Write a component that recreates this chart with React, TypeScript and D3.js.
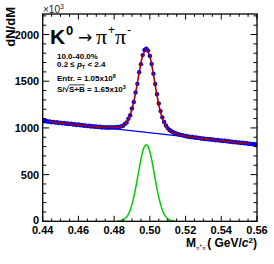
// K0 -> pi+ pi- invariant mass peak, ROOT-style frame drawn with d3 scales
import React from 'react';
import * as d3 from 'd3';

const svgWidth = 274;
const svgHeight = 264;
const margin = { left: 42.7, right: 17, top: 14, bottom: 42.7 };

const width = svgWidth - margin.left - margin.right;
const height = svgHeight - margin.top - margin.bottom;

// histogram: bin width 1 MeV starting at 0.440 GeV/c^2 (counts in units of 10^3)
const MASS_LO = 0.44;
const BIN_WIDTH = 0.001;
const counts = [
    1080, 1072, 1074, 1066, 1070, 1061, 1065, 1057, 1060, 1053,
    1057, 1049, 1053, 1045, 1048, 1041, 1045, 1036, 1040, 1032,
    1036, 1028, 1031, 1024, 1027, 1019, 1023, 1015, 1019, 1012,
    1016, 1009, 1012, 1005, 1009, 1003, 1007, 1002, 1007, 1003,
    1008, 1004, 1010, 1009, 1019, 1024, 1043, 1058, 1098, 1136,
    1208, 1277, 1380, 1472, 1596, 1683, 1780, 1835, 1848, 1828,
    1770, 1684, 1580, 1470, 1360, 1262, 1180, 1113, 1064, 1026,
    998, 978, 964, 953, 945, 937, 932, 926, 923, 917,
    914, 908, 907, 901, 902, 896, 897, 891, 892, 885,
    887, 881, 883, 877, 879, 873, 875, 868, 870, 864,
    866, 860, 862, 856, 858, 852, 853, 847, 849, 843,
    845, 839, 841, 835, 837, 830, 832, 826, 828, 822,
    824
];

// total fit, sampled every 2 MeV from 0.444
const FIT_LO = 0.444;
const FIT_STEP = 0.002;
const fitValues = [
    1067, 1062, 1058, 1054, 1050, 1045, 1041, 1037, 1033, 1029,
    1024, 1020, 1017, 1013, 1010, 1007, 1005, 1005, 1005, 1007,
    1016, 1039, 1094, 1202, 1374, 1588, 1772, 1843, 1764, 1571,
    1349, 1168, 1052, 988, 957, 940, 929, 921, 912, 906,
    900, 895, 890, 885, 881, 877, 873, 868, 864, 860,
    856, 851, 847, 843, 839, 835, 830
];

// signal component, every 1 MeV from 0.482
const SIG_LO = 0.482;
const SIG_STEP = 0.001;
const signalValues = [
    2, 4, 8, 15, 27, 47, 77, 121, 181, 258, 350, 454, 562, 663, 746, 801,
    820,
    801, 746, 663, 562, 454, 350, 258, 181, 121, 77, 47, 27, 15, 8, 4, 2
];

// linear background
const bgMass = [0.44, 0.56];
const bgValues = [1075, 822];

const xTicks = [0.44, 0.46, 0.48, 0.50, 0.52, 0.54, 0.56];
const yTicks = [0, 500, 1000, 1500, 2000];

const xScale = d3.scaleLinear().domain([0.44, 0.56]).range([0, width]);
const yScale = d3.scaleLinear().domain([0, 2220]).range([height, 0]);

const xMinor = d3.range(0.44, 0.5601, 0.005);
const yMinor = d3.range(0, 2201, 100);

const translate = (x, y) => 'translate(' + x + ',' + y + ')';

const lineGen = d3.line()
    .x(d => xScale(d[0]))
    .y(d => yScale(d[1]));

const curveGen = d3.line()
    .x(d => xScale(d[0]))
    .y(d => yScale(d[1]))
    .curve(d3.curveCatmullRom);

const font = "'Liberation Sans', Arial, Helvetica, sans-serif";
const serif = "'Liberation Serif', 'Times New Roman', serif";

export default function App() {
    const points = counts.map((c, i) => [MASS_LO + i * BIN_WIDTH, c]);
    const fit = fitValues.map((v, i) => [FIT_LO + i * FIT_STEP, v]);
    const signal = signalValues.map((v, i) => [SIG_LO + i * SIG_STEP, v]);
    const bg = bgMass.map((m, i) => [m, bgValues[i]]);

    return (
        <svg width={svgWidth} height={svgHeight}
            style={{ position: 'absolute', left: 0, top: 0, background: '#fff' }}>
            <defs>
                <clipPath id='plotArea'>
                    <rect x={0} y={0} width={width} height={height} />
                </clipPath>
            </defs>
            <g transform={translate(margin.left, margin.top)}>
                <g clipPath='url(#plotArea)'>
                    {points.map((p, i) => (
                        <circle key={i} cx={xScale(p[0])} cy={yScale(p[1])} r={2.2} fill='#0000f0' />
                    ))}
                    <path d={lineGen(bg)} fill='none' stroke='#0000f0' strokeWidth={1.3} />
                    <path d={curveGen(fit)} fill='none' stroke='#a80000' strokeWidth={1.6} />
                    <path d={curveGen(signal)} fill='none' stroke='#00cc00' strokeWidth={1.5} />
                </g>

                {/* minor + major ticks, all four sides, pointing inward */}
                {xMinor.map((v, i) => {
                    const major = i % 4 === 0;
                    const len = major ? 5.5 : 2.8;
                    const x = xScale(v);
                    return (
                        <g key={'xt' + i} stroke='#000' strokeWidth={1}>
                            <line x1={x} x2={x} y1={height} y2={height - len} />
                            <line x1={x} x2={x} y1={0} y2={len} />
                        </g>
                    );
                })}
                {yMinor.map((v, i) => {
                    const len = v % 500 === 0 ? 6.5 : 3.5;
                    const y = yScale(v);
                    return (
                        <g key={'yt' + i} stroke='#000' strokeWidth={1}>
                            <line x1={0} x2={len} y1={y} y2={y} />
                            <line x1={width} x2={width - len} y1={y} y2={y} />
                        </g>
                    );
                })}

                <rect x={0} y={0} width={width} height={height} fill='none' stroke='#000' strokeWidth={1.3} />

                {xTicks.map((v, i) => (
                    <text key={'xl' + i} x={xScale(v)} y={height + 13} textAnchor='middle'
                        fontFamily={font} fontWeight='bold' fontSize={11}>{d3.format('.2f')(v)}</text>
                ))}
                {yTicks.map((v, i) => (
                    <text key={'yl' + i} x={-3.5} y={yScale(v)} dy={v === 0 ? '0.25em' : '0.36em'} textAnchor='end'
                        fontFamily={font} fontWeight='bold' fontSize={11}>{v}</text>
                ))}
            </g>

            {/* exponent of the y axis */}
            <text x={43} y={13} fontFamily={font} fontSize={10} fill='#222'>
                ×10<tspan dy={-4} fontSize={7}>3</tspan>
            </text>

            {/* axis titles */}
            <text transform={'translate(15,7) rotate(-90)'} textAnchor='end'
                fontFamily={font} fontWeight='bold' fontSize={13}>dN/dM</text>
            <text x={257} y={247} textAnchor='end' fontFamily={font} fontWeight='bold' fontSize={12}>
                M<tspan dy={2.5} fontSize={6.5} fontFamily={serif} fontWeight='normal'>π</tspan>
                <tspan dy={-3} fontSize={5} fontWeight='normal'>+</tspan>
                <tspan dy={3} fontSize={6.5} fontFamily={serif} fontWeight='normal'>π</tspan>
                <tspan dy={-3} fontSize={5} fontWeight='normal'>-</tspan>
                <tspan dy={0.5}>( GeV/</tspan><tspan fontStyle='italic'>c</tspan>
                <tspan dy={-4} fontSize={8}>2</tspan><tspan dy={4}>)</tspan>
            </text>

            {/* reaction label */}
            <text x={50} y={44} fontFamily={font} fontWeight='bold' fontSize={21}>K</text>
            <text x={66} y={35} fontFamily={font} fontWeight='bold' fontSize={13}>0</text>
            <text x={78} y={43} fontFamily="'DejaVu Sans', sans-serif" fontSize={17}>→</text>
            <text x={96} y={44} fontFamily={serif} fontSize={22}>π</text>
            <text x={108} y={34} fontFamily={font} fontSize={12}>+</text>
            <text x={115} y={44} fontFamily={serif} fontSize={22}>π</text>
            <text x={127} y={34} fontFamily={font} fontSize={13}>-</text>

            <g fontFamily={font} fontWeight='bold' fontSize={8}>
                <text x={57} y={59}>10.0-40.0%</text>
                <text x={57} y={67}>0.2 ≤ <tspan fontStyle='italic'>p</tspan>
                    <tspan dy={2} fontSize={5.5}>T</tspan><tspan dy={-2}> &lt; 2.4</tspan></text>
                <text x={57} y={80.5}>Entr. = 1.05x10<tspan dy={-3} fontSize={5.5}>8</tspan></text>
                <text x={57} y={91.5}>S/√<tspan style={{ textDecoration: 'overline' }}>S+B</tspan> = 1.65x10<tspan dy={-3} fontSize={5.5}>3</tspan></text>
            </g>
        </svg>
    );
}
